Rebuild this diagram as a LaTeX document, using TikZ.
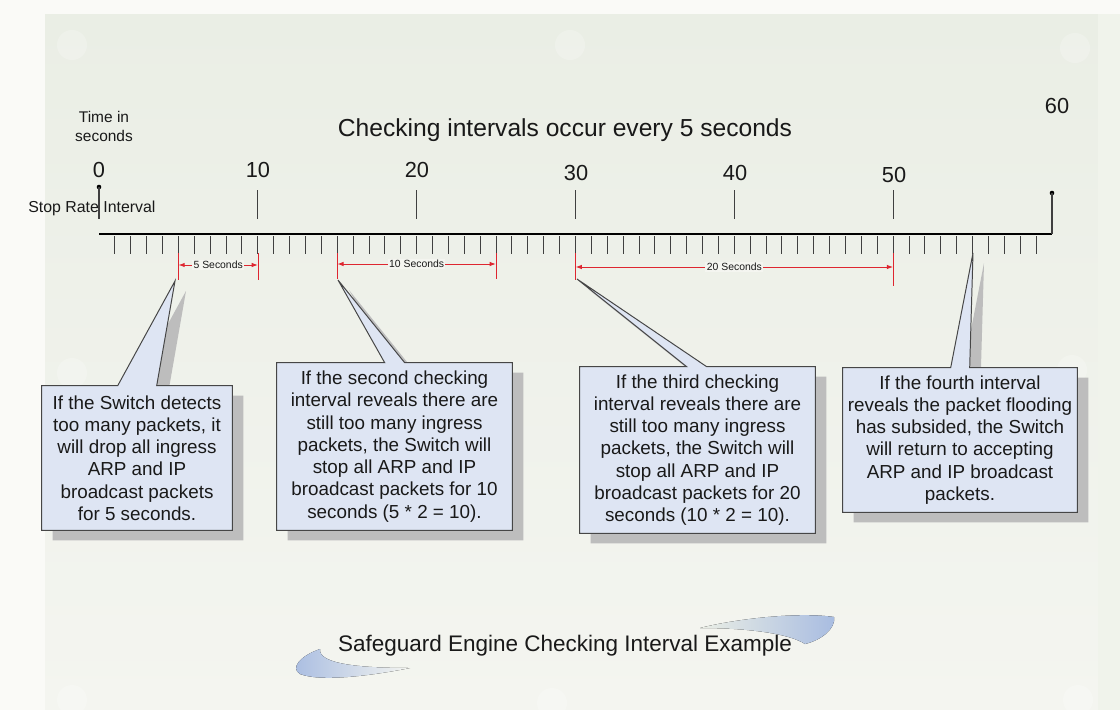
\documentclass[tikz,border=0pt]{standalone}
\usepackage{fontspec}
\setmainfont{Liberation Sans}
\usetikzlibrary{arrows.meta,positioning,calc}
\definecolor{bgouter}{RGB}{250,250,247}
\definecolor{bgpanel}{RGB}{234,238,229}
\definecolor{bgpanelb}{RGB}{244,245,240}
\definecolor{bgright}{RGB}{240,243,235}
\definecolor{boxfill}{RGB}{222,229,243}
\definecolor{boxline}{RGB}{70,70,70}
\definecolor{dimred}{RGB}{222,38,48}
\definecolor{inkc}{RGB}{25,25,25}
\definecolor{swoosh}{RGB}{168,188,225}
\pgfdeclarelayer{back}
\pgfdeclarelayer{mid}
\pgfsetlayers{back,mid,main}

\begin{document}
\begin{tikzpicture}[x=0.025cm, y=-0.025cm,
  every node/.style={text=inkc, inner sep=0pt},
  num/.style={font=\fontsize{15.5}{17}\selectfont},
  note/.style={align=center, font=\fontsize{11}{13.5}\selectfont},
  callout/.style={align=center, font=\fontsize{13.4}{15.8}\selectfont},
  calloutline/.style={draw=boxline, fill=boxfill, line width=0.7pt, line join=miter},
  calloutshadow/.style={fill=black!26, transform canvas={xshift=0.275cm, yshift=-0.25cm}},
  minortick/.style={draw=black!75, line width=0.7pt},
  majortick/.style={draw=black!75, line width=0.8pt},
  dimline/.style={draw=dimred, line width=0.7pt},
  dimlabel/.style={font=\fontsize{7.4}{8}\selectfont, fill=bgpanelb, inner xsep=1pt, inner ysep=0.5pt},
  screw/.style={fill=white, opacity=0.22},
  >={Latex[length=4.5pt,width=3.2pt]}
]
\useasboundingbox (0,0) rectangle (1120,710);

% Background panel
\begin{pgfonlayer}{back}
\fill[bgouter] (0,0) rectangle (1120,710);
\shade[top color=bgpanel, bottom color=bgpanelb] (45,14) rectangle (1098,710);
\fill[bgright] (1098,14) rectangle (1120,710);
\foreach \sx/\sy in {72/45, 570/45, 1075/48, 72/373, 1072/370, 72/700, 552/703, 1078/700}
  \fill[screw] (\sx,\sy) circle (15);
% Title swooshes
\fill[left color=swoosh, right color=bgpanelb] (410,668) .. controls (360,668) and (318,664) .. (320,649)
  .. controls (300,656) and (290,668) .. (300,674) .. controls (320,682) and (370,676) .. (410,668) -- cycle;
\fill[right color=swoosh, left color=bgpanel] (700,628) .. controls (740,618) and (800,612) .. (834,617)
  .. controls (836,628) and (822,640) .. (805,644) .. controls (790,634) and (750,628) .. (700,628) -- cycle;
\end{pgfonlayer}

% Time axis
\coordinate (a0) at (99,234);
\coordinate (a60) at (1052,234);
\draw[line width=2pt] (a0) -- (a60);
\foreach \t in {1,...,59}
  \draw[minortick] ({99+15.883*\t},236) -- ++(0,18);
\foreach \t in {10,20,...,50}
  \draw[majortick] ({99+15.883*\t},190) -- ++(0,29);
\fill (99,187) circle (2.3);
\draw[majortick] (99,187) -- (99,219);
\fill (1052,193) circle (2.3);
\draw[majortick] (1052,193) -- (a60);

% Axis labels
\node[num] (l0) at (99,170) {0};
\node[num] (l10) at (258,170) {10};
\node[num] (l20) at (417,170) {20};
\node[num] (l30) at (576,173) {30};
\node[num] (l40) at (735,173) {40};
\node[num] (l50) at (894,175) {50};
\node[num] (l60) at (1057,106) {60};
\node[note] (unit) at (104,126) {Time in\\seconds};
\node[note, anchor=west, font=\fontsize{11.3}{13}\selectfont] (stop) at (28,208) {Stop Rate Interval};
\node[font=\fontsize{17.5}{20}\selectfont] (head) at (565,130) {Checking intervals occur every 5 seconds};

% Red interval markers
\foreach \n/\xa/\xb/\ya/\yb/\ym in {d5/178.4/258/280/280/265, d10/337.2/496/279/279/264, d20/575.5/893.2/280/286/267} {
  \coordinate (\n a) at (\xa,\ym);
  \coordinate (\n b) at (\xb,\ym);
  \draw[dimline] (\xa,253) -- (\xa,\ya);
  \draw[dimline] (\xb,253) -- (\xb,\yb);
}
\draw[dimline,<->] (d5a) -- (d5b) node[midway, dimlabel] {5 Seconds};
\draw[dimline,<->] (d10a) -- (d10b) node[midway, dimlabel] {10 Seconds};
\draw[dimline,<->] (d20a) -- (d20b) node[midway, dimlabel] {20 Seconds};

% Callouts
\node[callout, minimum width=4.75cm, minimum height=3.6cm] (c1) at (137,458)
  {If the Switch detects\\too many packets, it\\will drop all ingress\\ARP and IP\\broadcast packets\\for 5 seconds.};
\node[callout, minimum width=5.875cm, minimum height=4.175cm] (c2) at (394.5,446.5)
  {If the second checking\\interval reveals there are\\still too many ingress\\packets, the Switch will\\stop all ARP and IP\\broadcast packets for 10\\seconds (5 * 2 = 10).};
\node[callout, minimum width=5.875cm, minimum height=4.15cm] (c3) at (697.5,450)
  {If the third checking\\interval reveals there are\\still too many ingress\\packets, the Switch will\\stop all ARP and IP\\broadcast packets for 20\\seconds (10 * 2 = 10).};
\node[callout, minimum width=5.85cm, minimum height=3.6cm] (c4) at (960,440)
  {If the fourth interval\\reveals the packet flooding\\has subsided, the Switch\\will return to accepting\\ARP and IP broadcast\\packets.};
\coordinate (c1tip) at (175,281);
\coordinate (c2tip) at (338,280);
\coordinate (c3tip) at (577,279);
\coordinate (c4tip) at (973,253);

\begin{pgfonlayer}{mid}
\foreach \c/\pa/\pb in {c1/76/115, c2/108/128, c3/107/127, c4/108/127} {
  \path[calloutshadow] (\c.north west) -- ($(\c.north west)+(\pa,0)$) -- (\c tip) -- ($(\c.north west)+(\pb,0)$)
    -- (\c.north east) -- (\c.south east) -- (\c.south west) -- cycle;
  \path[calloutline] (\c.north west) -- ($(\c.north west)+(\pa,0)$) -- (\c tip) -- ($(\c.north west)+(\pb,0)$)
    -- (\c.north east) -- (\c.south east) -- (\c.south west) -- cycle;
}
\end{pgfonlayer}

% Title
\node[font=\fontsize{16}{18}\selectfont] (title) at (565,646) {Safeguard Engine Checking Interval Example};

\end{tikzpicture}
\end{document}
